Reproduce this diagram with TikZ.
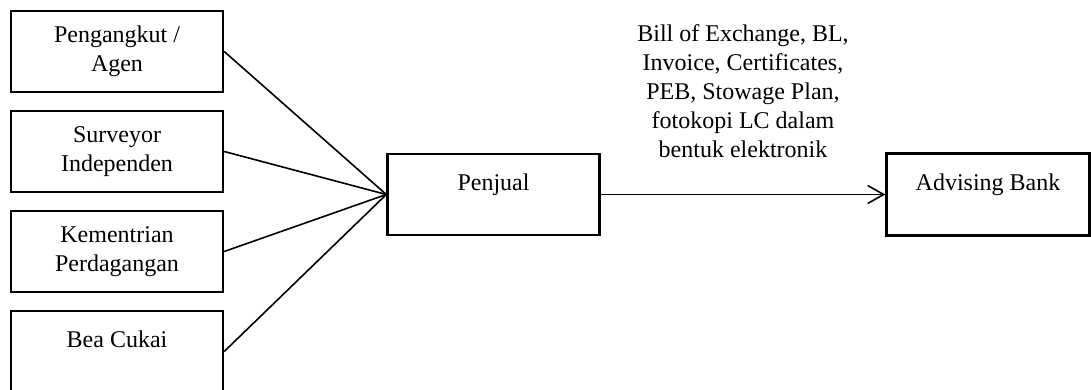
\documentclass[tikz,border=0pt]{standalone}
\usepackage{fontspec}
\setmainfont{Liberation Serif}
\usetikzlibrary{positioning,arrows.meta}

\tikzset{
  partybox/.style={draw, line width=1.2pt, minimum width=106pt, minimum height=40.5pt, align=center, inner sep=2pt},
  onelinebox/.style={partybox, text height=8pt, text depth=12pt},
  link/.style={line width=0.8pt},
}

\begin{document}
\begin{tikzpicture}[x=0.5pt, y=0.5pt, font=\fontsize{12}{14.5}\selectfont, node distance=8.3pt]
\useasboundingbox (0,0) rectangle (1091,390);

    \node[partybox] (agen) at (117,338.5) {Pengangkut /\\Agen};
    \node[partybox, below=of agen] (surveyor) {Surveyor\\Independen};
    \node[partybox, below=of surveyor] (kemendag) {Kementrian\\Perdagangan};
    \node[onelinebox, below=of kemendag] (bea) {Bea Cukai};

    \node[onelinebox] (penjual) at (493.5,195.5) {Penjual};
    \node[onelinebox, minimum width=101.5pt, minimum height=41pt, right=142.3pt of penjual] (bank) {Advising Bank};

    \foreach \src in {agen, surveyor, kemendag, bea}
        \draw[link] (\src.east) -- (penjual.west);

    \draw[link, -{Straight Barb[length=8pt, width=9pt]}] (penjual) -- (bank)
        node[midway, above=18pt, inner sep=0pt, align=center] (dokumen)
        {Bill of Exchange, BL,\\Invoice, Certificates,\\PEB, Stowage Plan,\\fotokopi LC dalam\\bentuk elektronik};

\end{tikzpicture}
\end{document}
